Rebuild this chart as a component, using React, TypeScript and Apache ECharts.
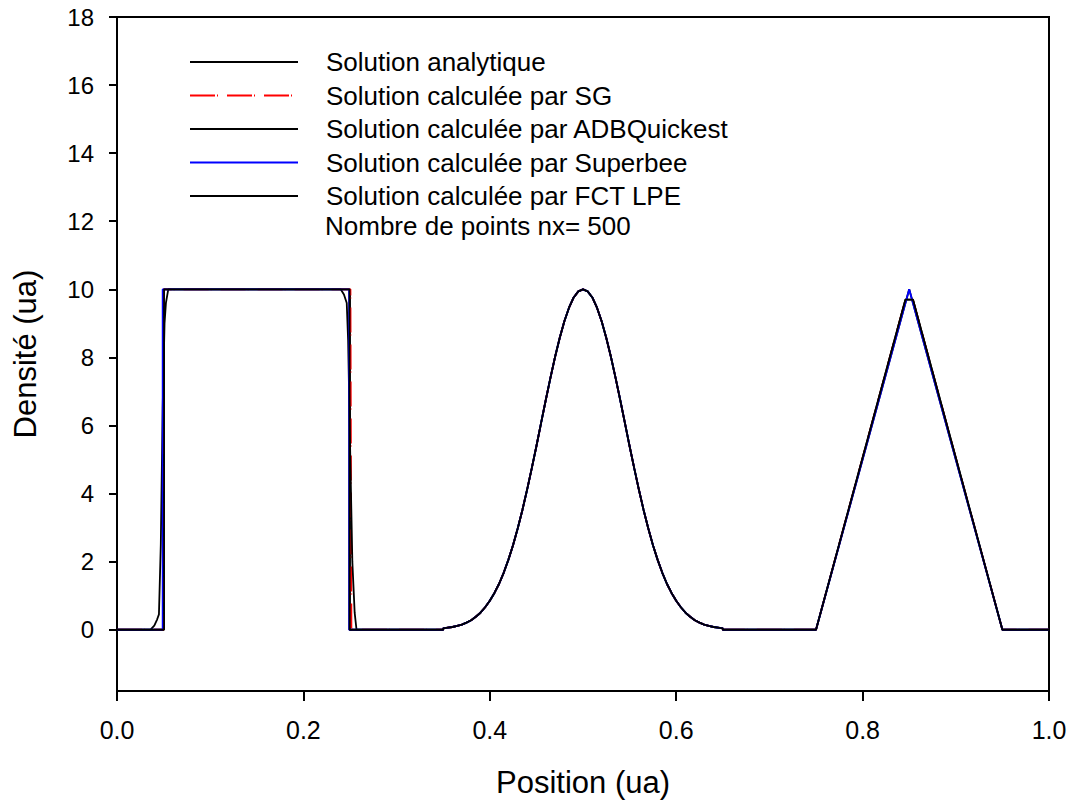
import React, { useEffect, useRef } from "react";
import * as echarts from "echarts";

// ---- data ----
const seriesNames = [
  "Solution analytique",
  "Solution calculée par SG",
  "Solution calculée par ADBQuickest",
  "Solution calculée par Superbee",
  "Solution calculée par FCT LPE",
];
const infoText = "Nombre de points nx= 500";

// Gaussian bump (shared shape) x and y
const gaussX = [
  0.35, 0.355, 0.36, 0.365, 0.37, 0.375, 0.38, 0.385, 0.39, 0.395, 0.4, 0.405, 0.41, 0.415, 0.42, 0.425,
  0.43, 0.435, 0.44, 0.445, 0.45, 0.455, 0.46, 0.465, 0.47, 0.475, 0.48, 0.485, 0.49, 0.495, 0.5,
  0.505, 0.51, 0.515, 0.52, 0.525, 0.53, 0.535, 0.54, 0.545, 0.55, 0.555, 0.56, 0.565, 0.57, 0.575,
  0.58, 0.585, 0.59, 0.595, 0.6, 0.605, 0.61, 0.615, 0.62, 0.625, 0.63, 0.635, 0.64, 0.645, 0.65,
];
const gaussY = [
  0.04, 0.06, 0.08, 0.11, 0.15, 0.21, 0.28, 0.38, 0.5, 0.66, 0.85, 1.08, 1.35, 1.68, 2.06, 2.49,
  2.98, 3.52, 4.11, 4.74, 5.39, 6.07, 6.74, 7.39, 8.01, 8.57, 9.06, 9.46, 9.76, 9.94, 10,
  9.94, 9.76, 9.46, 9.06, 8.57, 8.01, 7.39, 6.74, 6.07, 5.39, 4.74, 4.11, 3.52, 2.98, 2.49,
  2.06, 1.68, 1.35, 1.08, 0.85, 0.66, 0.5, 0.38, 0.28, 0.21, 0.15, 0.11, 0.08, 0.06, 0.04,
];

// square pulse part (x, y) per series
const analSquareX = [0, 0.05, 0.05, 0.25, 0.25, 0.35];
const analSquareY = [0, 0, 10, 10, 0, 0];
const sgSquareX = [0, 0.05, 0.05, 0.2505, 0.251, 0.2515, 0.35];
const sgSquareY = [0, 0, 10, 10, 5, 0, 0];
const adbSquareX = [0, 0.036, 0.04, 0.043, 0.045, 0.047, 0.049, 0.051, 0.0525, 0.055, 0.24, 0.2435, 0.2465, 0.248, 0.25, 0.2525, 0.255, 0.257, 0.35];
const adbSquareY = [0, 0, 0.12, 0.3, 0.45, 2.5, 6.5, 9.0, 9.6, 10, 10, 9.85, 9.6, 8.5, 5.5, 2.0, 0.5, 0, 0];
const sbSquareX = [0, 0.049, 0.049, 0.249, 0.249, 0.35];
const sbSquareY = [0, 0, 10, 10, 0, 0];
const fctSquareX = [0, 0.0505, 0.0505, 0.2495, 0.2495, 0.35];
const fctSquareY = [0, 0, 10, 10, 0, 0];

// triangle part (x, y) per series
const triExactX = [0.65, 0.75, 0.85, 0.95, 1.0];
const triExactY = [0, 0, 10, 0, 0];
const triSmearX = [0.65, 0.75, 0.846, 0.854, 0.95, 1.0];
const triSmearY = [0, 0, 9.7, 9.7, 0, 0];

const yTicks = [0, 2, 4, 6, 8, 10, 12, 14, 16, 18];

const colors = ["#000000", "#ff0000", "#000000", "#0000ff", "#000000"];

function build(sqX: number[], sqY: number[], trX: number[], trY: number[]) {
  const pts: number[][] = [];
  sqX.forEach((x, i) => pts.push([x, sqY[i]]));
  gaussX.forEach((x, i) => pts.push([x, gaussY[i]]));
  trX.forEach((x, i) => pts.push([x, trY[i]]));
  return pts;
}

const FONT = "'Liberation Sans', Arial, sans-serif";

export default function App() {
  const ref = useRef<HTMLDivElement>(null);
  useEffect(() => {
    if (!ref.current) return;
    const chart = echarts.init(ref.current, undefined, { renderer: "svg" });
    const datasets = [
      build(analSquareX, analSquareY, triExactX, triExactY),
      build(sgSquareX, sgSquareY, triSmearX, triSmearY),
      build(adbSquareX, adbSquareY, triSmearX, triSmearY),
      build(sbSquareX, sbSquareY, triExactX, triExactY),
      build(fctSquareX, fctSquareY, triSmearX, triSmearY),
    ];
    const series = datasets.map((d, i) => ({
      name: seriesNames[i],
      type: "line",
      data: d,
      symbol: "none",
      showSymbol: false,
      lineStyle: {
        color: colors[i],
        width: 1.8,
        type: i === 1 ? [25, 2, 1, 9] : "solid",
      },
      itemStyle: { color: colors[i] },
      z: 2 + i,
    }));
    chart.setOption({
      animation: false,
      backgroundColor: "#ffffff",
      textStyle: { fontFamily: FONT },
      grid: {
        left: 117,
        right: 22,
        top: 17,
        bottom: 114,
        show: true,
        borderColor: "#000",
        borderWidth: 2,
        backgroundColor: "transparent",
      },
      legend: {
        orient: "vertical",
        left: 189,
        top: 48.5,
        padding: 0,
        itemWidth: 108,
        itemHeight: 14,
        itemGap: 6.5,
        selectedMode: false,
        itemStyle: { opacity: 0, borderWidth: 0 },
        textStyle: {
          fontFamily: FONT,
          fontSize: 26,
          lineHeight: 27,
          color: "#000",
          padding: [0, 0, 0, 23],
        },
        data: seriesNames,
      },
      xAxis: {
        type: "value",
        min: 0,
        max: 1,
        interval: 0.2,
        name: "Position (ua)",
        nameLocation: "middle",
        nameGap: 76,
        nameTextStyle: { fontFamily: FONT, fontSize: 31, color: "#000" },
        axisLine: { onZero: false, lineStyle: { color: "#000", width: 2 } },
        axisTick: { length: 10, lineStyle: { color: "#000", width: 2 } },
        axisLabel: {
          fontFamily: FONT,
          fontSize: 25,
          color: "#000",
          margin: 26,
          formatter: (v: number) => v.toFixed(1),
        },
        splitLine: { show: false },
      },
      yAxis: {
        type: "value",
        min: -1.8,
        max: 18,
        name: "Densité (ua)",
        nameLocation: "middle",
        nameGap: 76,
        nameTextStyle: { fontFamily: FONT, fontSize: 31, color: "#000" },
        axisLine: { onZero: false, lineStyle: { color: "#000", width: 2 } },
        axisTick: { length: 8, customValues: yTicks, lineStyle: { color: "#000", width: 2 } },
        axisLabel: {
          fontFamily: FONT,
          fontSize: 24,
          color: "#000",
          margin: 23,
          customValues: yTicks,
        },
        splitLine: { show: false },
      },
      graphic: [
        {
          type: "text",
          left: 325,
          top: 213,
          style: { text: infoText, font: `26px ${FONT}`, fill: "#000" },
        },
      ],
      series,
    });
    return () => chart.dispose();
  }, []);
  return (
    <div
      ref={ref}
      style={{ position: "fixed", left: 0, top: 0, width: 1071, height: 805, background: "#fff" }}
    />
  );
}
